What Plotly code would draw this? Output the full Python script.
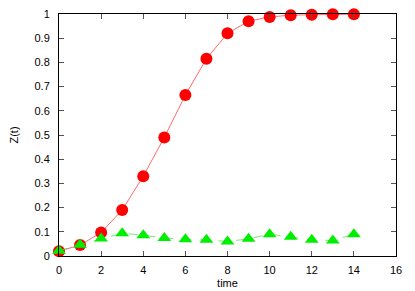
import plotly.graph_objects as go

time = list(range(15))
z_red = [0.02, 0.045, 0.097, 0.19, 0.33, 0.49, 0.665, 0.815, 0.92, 0.97, 0.988, 0.995, 0.997, 0.999, 0.999]
z_green = [0.022, 0.046, 0.072, 0.094, 0.086, 0.074, 0.069, 0.067, 0.06, 0.071, 0.09, 0.08, 0.067, 0.064, 0.09]

fig = go.Figure()
fig.add_trace(go.Scatter(
    x=time, y=z_red, mode="lines+markers",
    line=dict(color="rgba(255,80,80,0.85)", width=1),
    marker=dict(symbol="circle", size=12, color="#ff0000", line=dict(width=0)),
    cliponaxis=False,
))
fig.add_trace(go.Scatter(
    x=time, y=z_green, mode="lines+markers",
    line=dict(color="rgba(80,230,80,0.8)", width=1, dash="dash"),
    marker=dict(symbol="triangle-up", size=12, color="#00ee00", line=dict(width=0)),
    cliponaxis=False,
))

font = dict(family="Liberation Sans, Arial", size=11, color="black")
axis_common = dict(
    showline=True, linecolor="black", linewidth=1, mirror="ticks",
    ticks="inside", ticklen=5, tickcolor="#555", showgrid=False, zeroline=False,
    tickfont=font, automargin=False, ticklabeloverflow="allow",
)
fig.update_xaxes(range=[0, 16], dtick=2, tick0=0, ticklabelstandoff=4,
                 title=dict(text="time", font=font, standoff=4),
                 **axis_common)
fig.update_yaxes(range=[0, 1], dtick=0.1, tick0=0, ticklabelstandoff=6,
                 title=dict(text="Z(t)", font=font, standoff=14),
                 **axis_common)
# page body has an 8px default margin, so the figure is shrunk by 8px
fig.update_layout(
    width=407, height=283, showlegend=False,
    margin=dict(l=51, r=19, t=6, b=35),
    plot_bgcolor="white", paper_bgcolor="white",
)
fig.write_html("out.html")
